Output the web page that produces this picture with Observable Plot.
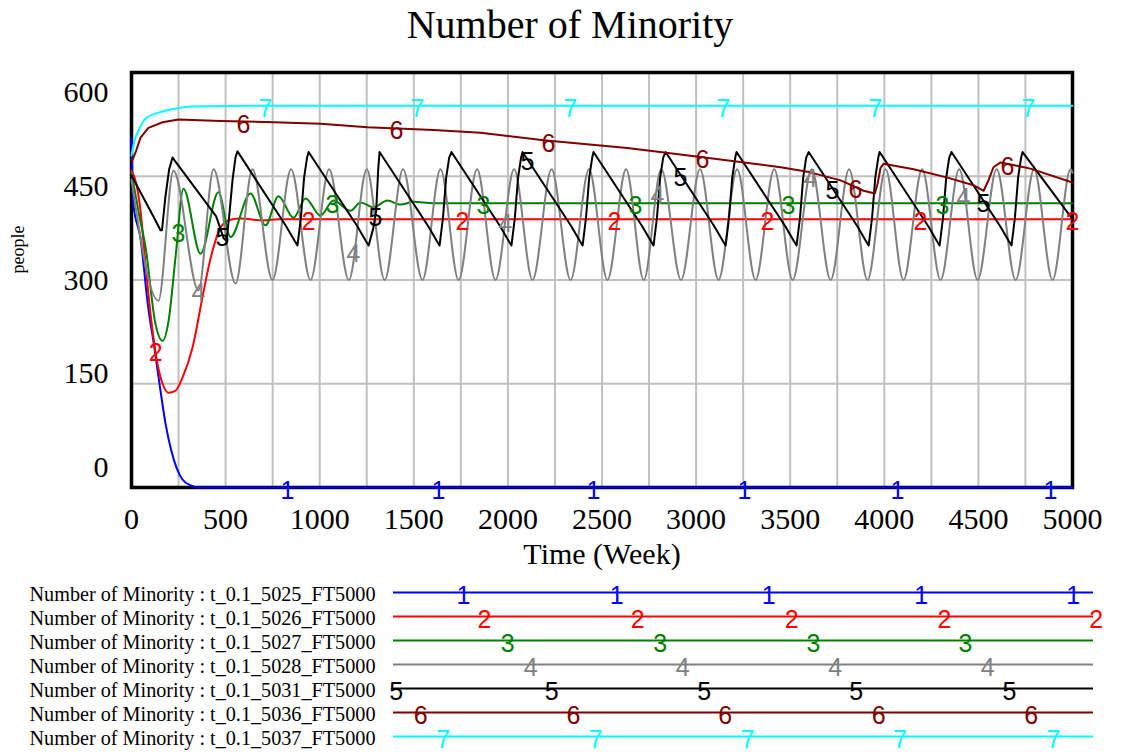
<!DOCTYPE html>
<html><head><meta charset="utf-8">
<script src="https://cdn.jsdelivr.net/npm/d3@7"></script>
<script src="https://cdn.jsdelivr.net/npm/@observablehq/plot@0.6"></script>
<style>
html,body{margin:0;padding:0;background:#fff;}
#wrap{width:1121px;}
#title{height:50px;font-family:"Liberation Serif","Times New Roman",serif;font-size:40px;line-height:50px;text-align:center;padding-left:19px;box-sizing:border-box;white-space:nowrap;color:#000;}
svg{display:block;}
</style></head><body><div id="wrap"><div id="title">Number of Minority</div></div>
<script>
// ---- data (Time in weeks, value in people) ----
const runs = ["5025","5026","5027","5028","5031","5036","5037"];
const seriesIds = ["1","2","3","4","5","6","7"];
const colors = ["#0000ff","#ff0000","#008000","#808080","#000000","#800000","#00ffff"];

const s1 = [[0,505],[10,410],[48,360],[88,262],[120,205],[154,140],[181,92],[210,55],[240,28],[270,12],[314,3],[360,0],[5000,0]];
const s2 = [[0,458],[25,440],[48,400],[74,324],[101,251],[138,179],[165,150],[197,137],[234,140],[271,159],[324,202],[377,275],[409,318],[446,357],[473,376],[526,387],[579,389],[700,386],[780,388],[5000,388]];
const s3 = [[0,455],[40,395],[75,347],[127,237],[165,212],[197,241],[234,333],[276,432],[367,338],[462,427],[526,362],[632,425],[712,379],[781,421],[861,390],[925,418],[1004,393],[1073,415],[1164,400],[1217,412],[1286,405],[1360,415],[1429,409],[1500,413],[1600,411],[5000,411]];
const s4 = [[0,445],[143,270],[223,458],[356,285],[436,460],[553,295],[643,460],[749,300],[848,460],[951,300],[1050,460],[1155,300],[1250,460],[1345,300],[1443,460],[1546,300],[1642,460],[1738,300],[1836,460],[1934,300],[2033,460],[2131,300],[2232,460],[2333,300],[2431,460],[2529,300],[2628,460],[2722,300],[2815,460],[2920,300],[3021,460],[3119,300],[3218,460],[3316,300],[3415,460],[3513,300],[3614,460],[3715,300],[3813,460],[3911,300],[4007,460],[4102,300],[4201,460],[4299,300],[4398,460],[4496,300],[4597,460],[4698,300],[4796,460],[4894,300],[4990,460],[5000,455]];
const s5 = [[0,451],[120,390],[154,372],[162,372],[180,420],[200,460],[218,477],
 [450,392],[490,360],[505,357],[520,395],[537,445],[553,478],[563,486],
 [821,378],[868,356],[882,350],[900,390],[917,448],[933,477],[941,485],
 [1199,378],[1246,356],[1260,350],[1285,375],[1300,400],[1311,460],[1318,485],
 [1576,378],[1623,356],[1637,350],[1655,390],[1672,448],[1688,477],[1700,485],
 [1958,378],[2005,356],[2019,350],[2037,390],[2054,448],[2070,477],[2078,485],
 [2336,378],[2383,356],[2397,350],[2415,390],[2432,448],[2448,477],[2455,485],
 [2713,378],[2760,356],[2774,350],[2792,390],[2809,448],[2825,477],[2838,485],
 [3096,378],[3143,356],[3157,350],[3175,390],[3192,448],[3208,477],[3215,485],
 [3473,378],[3520,356],[3534,350],[3552,390],[3569,448],[3585,477],[3598,485],
 [3856,378],[3903,356],[3917,350],[3935,390],[3952,448],[3968,477],[3975,485],
 [4233,378],[4280,356],[4294,350],[4312,390],[4329,448],[4345,477],[4357,485],
 [4615,378],[4662,356],[4676,350],[4694,390],[4711,448],[4727,477],[4735,485],
 [5000,388]];
const s6 = [[0,470],[21,484],[48,506],[90,520],[165,528],[250,532],[473,530],[755,528],[1005,526],[1254,521],[1605,517],[1855,513],[2190,502],[2635,491],[3024,478],[3449,463],[3600,456],[3768,444],[3890,429],[3950,425],[3965,440],[3980,462],[3996,468],[4156,460],[4336,448],[4474,437],[4528,429],[4555,445],[4580,463],[4618,470],[4777,461],[5000,441]];
const s7 = [[0,480],[10,494],[20,505],[37,516],[74,533],[143,542],[234,548],[325,551],[700,552],[5000,552]];

// times at which the run number is printed on each curve
const m1 = [829,1631,2455,3257,4070,4883];
const m2 = [128,940,1759,2566,3379,4192,5000];
const m3 = [250,1068,1870,2678,3491,4309];
const m4 = [356,1180,1987,2795,3608,4421];
const m5 = [483,1296,2104,2917,3725,4527];
const m6 = [595,1408,2216,3034,3847,4655];
const m7 = [712,1520,2333,3146,3953,4766];

// relative positions (0..1) of the run numbers along each legend line
const l1 = [0.100,0.319,0.536,0.754,0.971];
const l2 = [0.130,0.349,0.569,0.787,1.004];
const l3 = [0.163,0.381,0.600,0.817];
const l4 = [0.196,0.413,0.631,0.849];
const l5 = [0.004,0.226,0.444,0.661,0.880];
const l6 = [0.039,0.257,0.474,0.693,0.911];
const l7 = [0.071,0.289,0.506,0.724,0.943];

const xTicks = [0,500,1000,1500,2000,2500,3000,3500,4000,4500,5000];
const xGrid = [250,500,750,1000,1250,1500,1750,2000,2250,2500,2750,3000,3250,3500,3750,4000,4250,4500,4750];
const yTicks = [600,450,300,150,0];
const yGrid = [150,300,450];

// ---- drawing ----
const serif = '"Liberation Serif","Times New Roman",serif';
const sans = '"Liberation Sans",Arial,sans-serif';
const datas = [s1,s2,s3,s4,s5,s6,s7];
const markTimes = [m1,m2,m3,m4,m5,m6,m7];
const legendPos = [l1,l2,l3,l4,l5,l6,l7];
const curves = ["monotone-x","monotone-x","monotone-x","monotone-x","linear","linear","monotone-x"];
const yLabelShift = [20,10,0,-10,-20];

function interp(data, t) {
  for (let i = 1; i < data.length; i++) {
    if (t <= data[i][0]) {
      const [t0, v0] = data[i-1], [t1, v1] = data[i];
      return v0 + (v1 - v0) * (t - t0) / (t1 - t0);
    }
  }
  return data[data.length-1][1];
}

const main = Plot.plot({
  width: 1121, height: 525,
  marginTop: 22, marginBottom: 88, marginLeft: 131, marginRight: 49,
  x: {domain: [0,5000]},
  y: {domain: [0,600]},
  style: {fontFamily: serif, fontSize: "30px", background: "white", overflow: "visible", color: "#000"},
  marks: [
    Plot.gridX(xGrid, {stroke: "#c0c0c0", strokeOpacity: 1, strokeWidth: 2}),
    Plot.gridY(yGrid, {stroke: "#c0c0c0", strokeOpacity: 1, strokeWidth: 2}),
    Plot.frame({stroke: "#000", strokeWidth: 3.5}),
    Plot.axisX(xTicks, {tickSize: 0, tickPadding: 20, fontSize: 30, tickFormat: d => String(d), label: null}),
    ...yTicks.map((v, i) => Plot.axisY([v], {tickSize: 0, tickPadding: 23, fontSize: 30, dy: yLabelShift[i], tickFormat: d => String(d), label: null})),
    Plot.text(["Time (Week)"], {frameAnchor: "bottom", lineAnchor: "bottom", dy: 76, fontSize: 30, fill: "#000"}),
    Plot.text(["people"], {frameAnchor: "left", rotate: -90, dx: -113, dy: -6.5, fontSize: 18, fill: "#000"}),
    ...datas.map((d, i) => Plot.line(d, {x: p => p[0], y: p => p[1], stroke: colors[i], strokeWidth: 2, curve: curves[i]})),
    ...datas.map((d, i) => Plot.text(markTimes[i].map(t => ({t, v: interp(d, t)})),
      {x: "t", y: "v", text: () => seriesIds[i], fill: colors[i], fontSize: 25, fontFamily: sans, lineAnchor: "middle", dy: 3}))
  ]
});

const names = runs.map(r => `Number of Minority : t_0.1_${r}_FT5000`);
const legend = Plot.plot({
  width: 1121, height: 179,
  marginTop: 15, marginBottom: 17, marginLeft: 393, marginRight: 28,
  x: {domain: [0,1], axis: null},
  y: {type: "point", domain: names, padding: 0, axis: null},
  style: {fontFamily: serif, background: "white", overflow: "visible", color: "#000"},
  marks: [
    ...names.map((n, i) => Plot.ruleY([n], {stroke: colors[i], strokeWidth: 2})),
    Plot.text(names, {y: d => d, frameAnchor: "left", textAnchor: "end", dx: -18, lineAnchor: "middle", dy: 2, fontSize: 20.2, fill: "#000"}),
    ...names.map((n, i) => Plot.text(legendPos[i], {x: d => d, y: () => n, text: () => seriesIds[i], fill: colors[i], fontSize: 25, fontFamily: sans, lineAnchor: "middle", dy: 3.5}))
  ]
});

const wrap = document.getElementById("wrap");
wrap.appendChild(main);
wrap.appendChild(legend);
</script></body></html>
